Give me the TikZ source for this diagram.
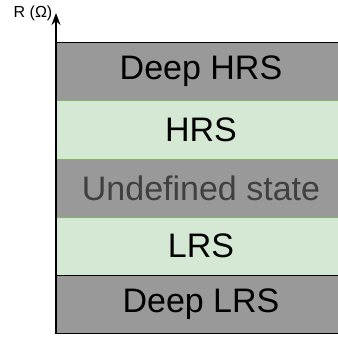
\documentclass[tikz,border=0pt]{standalone}
\usepackage{fontspec}
\setmainfont{Liberation Sans}
\usetikzlibrary{arrows.meta}
\definecolor{greyfill}{HTML}{999999}
\definecolor{greenfill}{HTML}{D5E8D4}
\definecolor{greenline}{HTML}{82B366}
\definecolor{darktext}{HTML}{404040}
\begin{document}
\begin{tikzpicture}[x=1pt,y=-1pt,
  greyrow/.style={fill=greyfill,draw=black,line width=1pt},
  greenrow/.style={fill=greenfill,draw=greenline,line width=1pt},
  rowtext/.style={font=\fontsize{34}{37}\selectfont,inner sep=0pt,anchor=center}]
\useasboundingbox (0,0) rectangle (338,338);
\begin{scope}
\clip (0,0) rectangle (338,338);
\draw[greyrow] (56,42) rectangle (346,100);
\draw[greyrow] (56,159) rectangle (346,217);
\draw[greenrow] (56,100) rectangle (346,159);
\draw[greenrow] (56,217) rectangle (346,275);
\draw[greyrow] (56,275) rectangle (346,333);
\end{scope}
\node[rowtext] (deephrs) at (201,71) {Deep HRS};
\node[rowtext] (hrs) at (201,129.5) {HRS};
\node[rowtext,text=darktext] (undef) at (201,188) {Undefined state};
\node[rowtext] (lrs) at (201,246) {LRS};
\node[rowtext] (deeplrs) at (201,304) {Deep LRS};
\coordinate (axbot) at (56,334);
\coordinate (axtop) at (56,13);
\draw[line width=1.6pt,-{Stealth[length=12pt,width=9pt]}] (axbot) -- (axtop);
\node[font=\fontsize{16}{19}\selectfont,inner sep=0pt,anchor=base] (rlabel) at (33,17.5) {R (Ω)};
\end{tikzpicture}
\end{document}
